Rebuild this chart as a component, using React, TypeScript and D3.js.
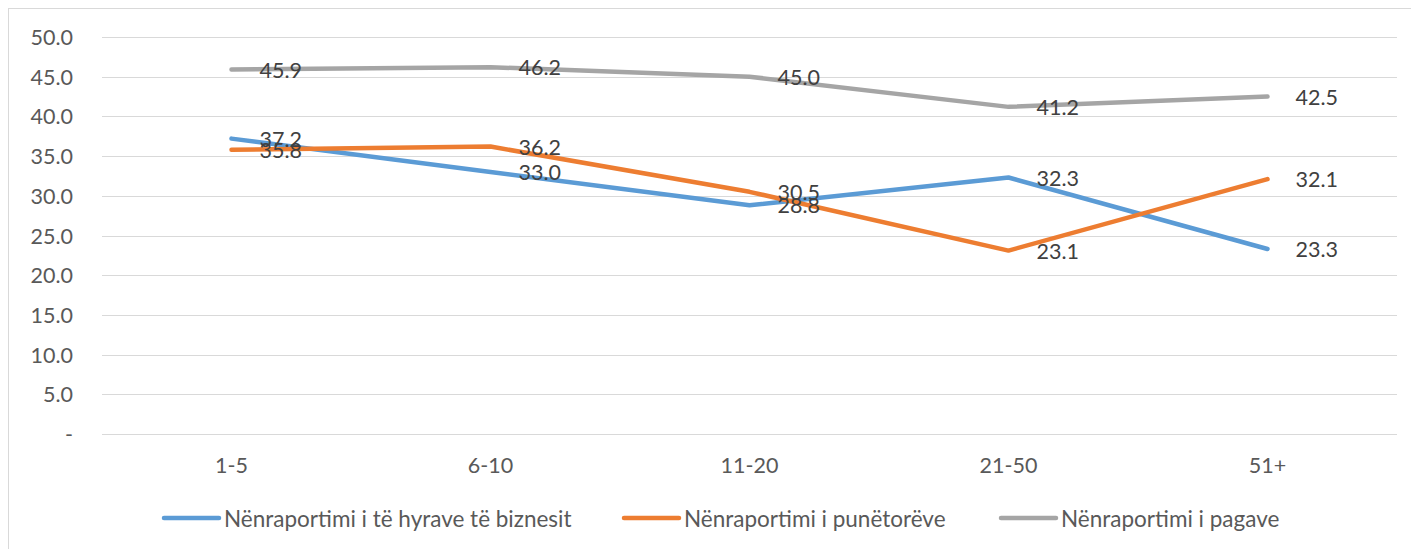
import React from "react";
import * as d3 from "d3";

const categories = ["1-5", "6-10", "11-20", "21-50", "51+"];
const seriesNames = [
  "Nënraportimi i të hyrave të biznesit",
  "Nënraportimi i punëtorëve",
  "Nënraportimi i pagave",
];
const businessIncome = [37.2, 33.0, 28.8, 32.3, 23.3];
const workers = [35.8, 36.2, 30.5, 23.1, 32.1];
const wages = [45.9, 46.2, 45.0, 41.2, 42.5];
const yTicks = [0, 5, 10, 15, 20, 25, 30, 35, 40, 45, 50];

const colors = ["#5B9BD5", "#ED7D31", "#A5A5A5"];
const FONT = "Lato, 'Liberation Sans', sans-serif";

export default function App() {
  const width = 1411;
  const height = 549;
  const plot = { left: 102, right: 1397, top: 37, bottom: 434 };

  const x = d3
    .scalePoint<string>()
    .domain(categories)
    .range([plot.left, plot.right])
    .padding(0.5);
  const y = d3.scaleLinear().domain([0, 50]).range([plot.bottom, plot.top]);

  const series = [businessIncome, workers, wages];
  const line = d3
    .line<number>()
    .x((_, i) => x(categories[i]) as number)
    .y((d) => y(d));

  const legendX = [164, 624, 1001];

  return (
    <svg
      width={width}
      height={height}
      style={{ position: "absolute", left: 0, top: 0, fontFamily: FONT }}
    >
      <rect x={0} y={0} width={width} height={height} fill="#fff" />
      <rect
        x={8.5}
        y={8.5}
        width={width + 10}
        height={height + 10}
        fill="none"
        stroke="#D9D9D9"
      />
      {yTicks.map((t) => (
        <g key={t}>
          <line
            x1={plot.left}
            x2={plot.right}
            y1={Math.round(y(t)) + 0.5}
            y2={Math.round(y(t)) + 0.5}
            stroke="#D9D9D9"
            strokeWidth={1.2}
          />
          <text
            x={73}
            y={y(t)}
            textAnchor="end"
            dominantBaseline="central"
            fill="#595959"
            fontSize={21.5}
          >
            {t === 0 ? "-" : t.toFixed(1)}
          </text>
        </g>
      ))}
      {categories.map((c) => (
        <text
          key={c}
          x={x(c)}
          y={465}
          textAnchor="middle"
          dominantBaseline="central"
          fill="#595959"
          fontSize={21.5}
        >
          {c}
        </text>
      ))}
      {series.map((s, i) => (
        <path
          key={i}
          d={line(s) ?? ""}
          fill="none"
          stroke={colors[i]}
          strokeWidth={4.5}
          strokeLinecap="round"
          strokeLinejoin="round"
        />
      ))}
      {series.map((s, i) =>
        s.map((v, j) => (
          <text
            key={`${i}-${j}`}
            x={(x(categories[j]) as number) + 28}
            y={y(v)}
            dominantBaseline="central"
            fill="#404040"
            fontSize={21.5}
          >
            {v.toFixed(1)}
          </text>
        ))
      )}
      {seriesNames.map((n, i) => (
        <g key={n}>
          <line
            x1={legendX[i]}
            x2={legendX[i] + 55}
            y1={518}
            y2={518}
            stroke={colors[i]}
            strokeWidth={4.5}
            strokeLinecap="round"
          />
          <text
            x={legendX[i] + 60}
            y={518}
            dominantBaseline="central"
            fill="#595959"
            fontSize={22.5}
          >
            {n}
          </text>
        </g>
      ))}
    </svg>
  );
}
